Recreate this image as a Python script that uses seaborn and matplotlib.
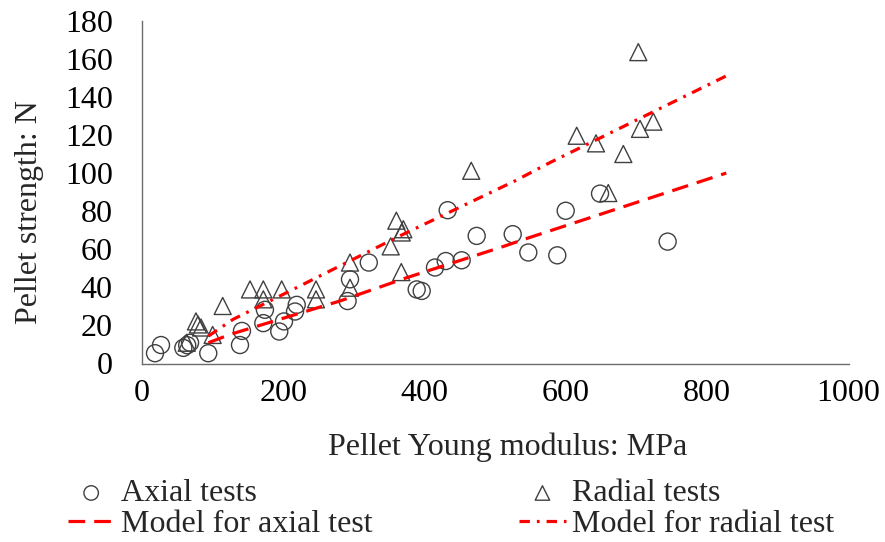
import matplotlib
matplotlib.use("Agg")
import matplotlib.pyplot as plt
import seaborn as sns

# Measured pellets: Young modulus (MPa) and crushing strength (N)
axial_modulus = [18.4, 26.9, 58.5, 64, 68, 93.8, 138.7, 141.5, 171.7, 174, 194.3, 201,
                 216.6, 219, 291, 294.4, 321, 388.8, 395.9, 414.7, 429.9, 432.7, 452.5,
                 473.7, 524.7, 546.8, 587.8, 599.7, 648.3, 744]
axial_strength = [5.4, 9.7, 8.2, 9.6, 10.9, 5.4, 9.7, 17.1, 21.2, 28.2, 16.8, 22.1,
                  27.3, 30.8, 32.8, 44.2, 53.0, 38.9, 38.1, 50.4, 53.8, 80.5, 54.2,
                  67.0, 67.9, 58.3, 56.8, 80.2, 89.2, 64.0]

radial_modulus = [63.3, 76.4, 79.3, 83.5, 100, 114.2, 152.9, 171.7, 171.7, 197.7, 246.3,
                  246.3, 294.4, 294.4, 352, 360, 367.6, 369.9, 367, 466, 615.3, 642.6,
                  660, 681.3, 704.9, 723.7, 702.5]
radial_strength = [10.9, 22.1, 20.5, 18.9, 15.0, 30.2, 38.9, 38.9, 33.7, 38.9, 38.9,
                   33.7, 53.0, 39.8, 61.5, 75.0, 68.8, 70.5, 48.0, 101.2, 119.6, 115.6,
                   89.5, 110.0, 123.2, 127.0, 163.5]

# Model curves
axial_model_modulus = [94, 125, 280, 375, 507, 549, 743, 827]
axial_model_strength = [10.9, 15.3, 32.8, 45.1, 60.9, 66.2, 89.8, 100.0]
radial_model_modulus = [94, 129, 195, 266, 365, 528, 578, 827]
radial_model_strength = [14.4, 23.2, 35.4, 48.6, 67.0, 95.9, 105.6, 151.0]

x_ticks = [0, 200, 400, 600, 800, 1000]
y_ticks = [0, 20, 40, 60, 80, 100, 120, 140, 160, 180]

sns.set_theme(style="white")
plt.rcParams["font.family"] = ["Liberation Serif", "DejaVu Serif"]
plt.rcParams["lines.scale_dashes"] = False

FS = 23
AXIS_GRAY = "#6b6b6b"
MARK_GRAY = "#404040"

fig = plt.figure(figsize=(8.85, 5.42), dpi=100)
ax = fig.add_axes([142 / 885, 1 - 363.5 / 542, 706.5 / 885, 342.8 / 542])

sns.scatterplot(x=axial_modulus, y=axial_strength, marker="o", s=150,
                ax=ax, label="Axial tests", zorder=3, legend=False)
sns.scatterplot(x=radial_modulus, y=radial_strength, marker="^", s=150,
                ax=ax, label="Radial tests", zorder=3, legend=False)
for coll in ax.collections:
    coll.set_facecolor("none")
    coll.set_edgecolor(MARK_GRAY)
    coll.set_linewidth(1.0)

sns.lineplot(x=axial_model_modulus, y=axial_model_strength, color="red",
             linewidth=2.3, linestyle=(0, (12, 6.5)), ax=ax,
             label="Model for axial test", legend=False, zorder=4)
sns.lineplot(x=radial_model_modulus, y=radial_model_strength, color="red",
             linewidth=2.3, linestyle=(0, (7.5, 5, 2, 5)), ax=ax,
             label="Model for radial test", legend=False, zorder=4)

ax.set_xlim(0, 1000)
ax.set_ylim(0, 180)
ax.set_xticks(x_ticks)
ax.set_yticks(y_ticks)
ax.set_xticklabels([str(t) for t in x_ticks], fontsize=FS)
ax.set_yticklabels([str(t) for t in y_ticks], fontsize=FS)

for side in ("top", "right"):
    ax.spines[side].set_visible(False)
for side in ("left", "bottom"):
    ax.spines[side].set_color(AXIS_GRAY)
    ax.spines[side].set_linewidth(1.0)
ax.tick_params(axis="both", which="major", direction="out", length=7,
               width=1.0, color=AXIS_GRAY, labelcolor="black")
ax.tick_params(axis="y", pad=14)
ax.tick_params(axis="x", pad=4)
ax.grid(False)

fig.text(508 / 885, 1 - 447 / 542, "Pellet Young modulus: MPa", fontsize=FS,
         ha="center", va="center")
fig.text(30 / 885, 1 - 212 / 542, "Pellet strength: N", fontsize=FS,
         ha="center", va="center", rotation=90)

handles, labels = ax.get_legend_handles_labels()
order = ["Axial tests", "Model for axial test", "Radial tests", "Model for radial test"]
hmap = dict(zip(labels, handles))
fig.legend([hmap[l] for l in order], order, ncol=2, loc="upper left",
           bbox_to_anchor=(68 / 885, 1 - 479 / 542), frameon=False,
           fontsize=FS, borderpad=0, borderaxespad=0, handlelength=1.45,
           handletextpad=0.2, columnspacing=4.6, labelspacing=0.05,
           markerscale=0.85)

fig.savefig("out.png", dpi=100)
